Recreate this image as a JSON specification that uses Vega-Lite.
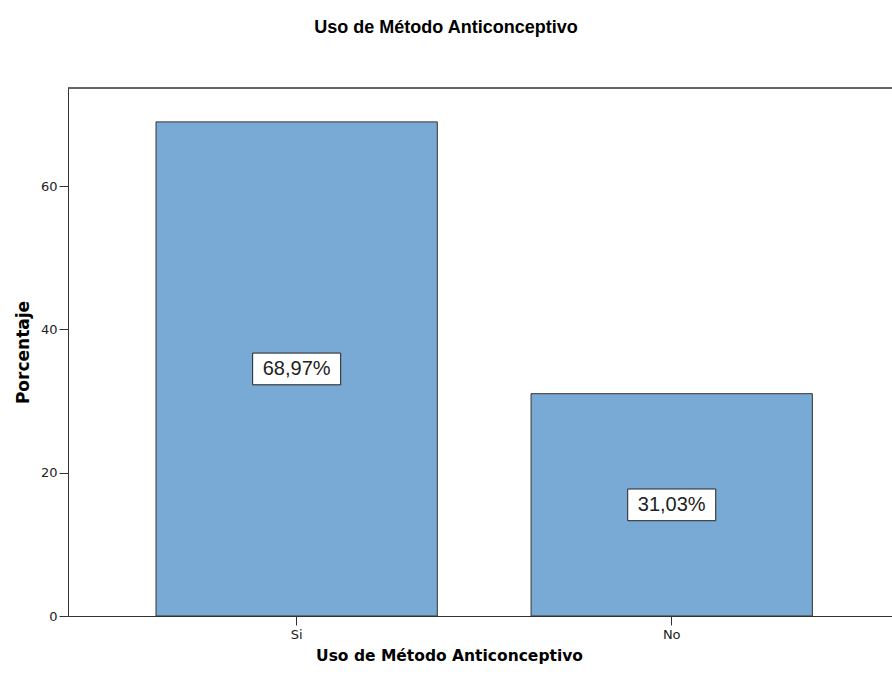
{
  "$schema": "https://vega.github.io/schema/vega-lite/v6.json",
  "width": 824,
  "height": 528,
  "autosize": {"type": "none"},
  "padding": {"left": 68, "top": 88, "right": 0, "bottom": 61},
  "background": "white",
  "config": {
    "view": {"stroke": null},
    "font": "DejaVu Sans",
    "locale": {"number": {"decimal": ",", "thousands": ".", "grouping": [3], "currency": ["", "%"]}}
  },
  "title": {
    "text": "Uso de Método Anticonceptivo",
    "font": "Liberation Sans",
    "fontSize": 18,
    "fontWeight": "bold",
    "color": "#000",
    "anchor": "middle",
    "offset": 51,
    "dx": -34
  },
  "data": {"values": [{"uso": "Si", "pct": 68.97}, {"uso": "No", "pct": 31.03}]},
  "layer": [
    {
      "mark": {"type": "bar", "fill": "#79a9d5", "stroke": "#333", "strokeWidth": 1},
      "encoding": {
        "x": {
          "field": "uso",
          "type": "nominal",
          "sort": ["Si", "No"],
          "scale": {"paddingInner": 0.25, "paddingOuter": 0.2235, "align": 0.525},
          "axis": {
            "title": "Uso de Método Anticonceptivo",
            "titleFont": "DejaVu Sans",
            "titleFontSize": 15.5,
            "titleFontWeight": "bold",
            "titleColor": "#000",
            "titleX": 381,
            "titlePadding": 7,
            "labelAngle": 0,
            "labelFontSize": 13,
            "labelColor": "#222",
            "labelPadding": 3,
            "tickSize": 9,
            "tickColor": "#333",
            "domainColor": "#333",
            "grid": false
          }
        },
        "y": {
          "field": "pct",
          "type": "quantitative",
          "scale": {"domain": [0, 73.7], "nice": false},
          "axis": {
            "title": "Porcentaje",
            "titleFont": "DejaVu Sans",
            "titleFontSize": 17,
            "titleFontWeight": "bold",
            "titleColor": "#000",
            "titlePadding": 8,
            "values": [0, 20, 40, 60],
            "labelFontSize": 13,
            "labelColor": "#222",
            "labelPadding": 2,
            "tickSize": 9,
            "tickColor": "#333",
            "domainColor": "#333",
            "grid": false
          }
        }
      }
    },
    {
      "mark": {"type": "rule", "color": "#333", "strokeWidth": 1},
      "encoding": {"y": {"datum": 73.7, "type": "quantitative"}}
    },
    {
      "transform": [{"calculate": "datum.pct / 2", "as": "mid"}],
      "mark": {"type": "point", "shape": "M-1,-0.36H1V0.36H-1Z", "size": 7744, "filled": true, "fill": "white", "stroke": "#222", "strokeWidth": 1, "opacity": 1},
      "encoding": {
        "x": {"field": "uso", "type": "nominal", "sort": ["Si", "No"]},
        "y": {"field": "mid", "type": "quantitative"}
      }
    },
    {
      "transform": [{"calculate": "datum.pct / 2", "as": "mid"}],
      "mark": {"type": "text", "font": "Liberation Sans", "fontSize": 20, "color": "#222", "baseline": "middle"},
      "encoding": {
        "x": {"field": "uso", "type": "nominal", "sort": ["Si", "No"]},
        "y": {"field": "mid", "type": "quantitative"},
        "text": {"field": "pct", "type": "quantitative", "format": "$.2f"}
      }
    }
  ]
}
